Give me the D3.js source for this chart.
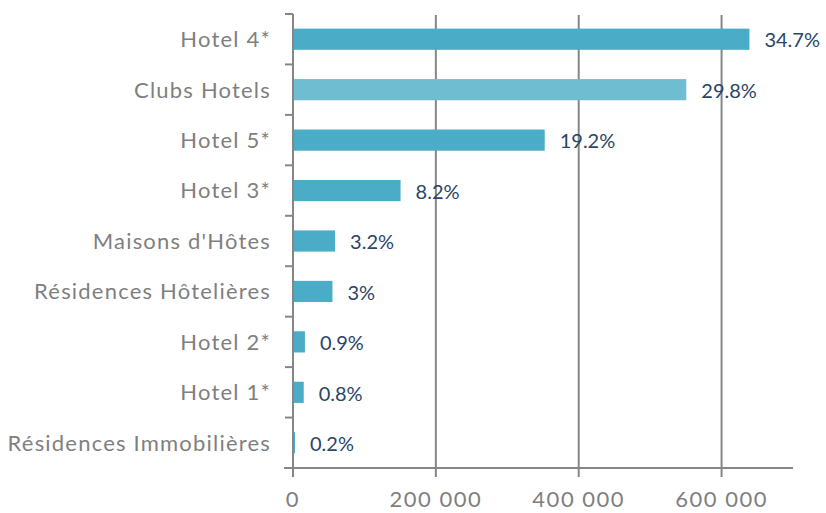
<!DOCTYPE html>
<html>
<head>
<meta charset="utf-8">
<style>
  body { margin: 0; background: #fff; }
  svg text { font-family: Lato, "Open Sans", sans-serif; }
</style>
<script src="https://d3js.org/d3.v7.min.js"></script>
</head>
<body>
<script>
// chart data
const categories = ["Hotel 4*", "Clubs Hotels", "Hotel 5*", "Hotel 3*", "Maisons d'Hôtes",
                    "Résidences Hôtelières", "Hotel 2*", "Hotel 1*", "Résidences Immobilières"];
const values = [639000, 550600, 352400, 150600, 58900, 55200, 16700, 15000, 2800];
const shares = ["34.7%", "29.8%", "19.2%", "8.2%", "3.2%", "3%", "0.9%", "0.8%", "0.2%"];
const xTicks = [0, 200000, 400000, 600000];

const w = 826, h = 513;
const mLeft = 293, mRight = 793, mTop = 14, mBottom = 468;

const svg = d3.select("body").append("svg")
    .attr("width", w)
    .attr("height", h);

const x = d3.scaleLinear().domain([0, 700000]).range([mLeft, mRight]);
const y = d3.scaleBand().domain(categories).range([mTop, mBottom]).paddingInner(0.58).paddingOuter(0.29);
const bandY = d3.scaleLinear().domain([0, categories.length]).range([mTop, mBottom]);

const gray = "#868686";

// vertical gridlines (with tick under the axis)
svg.append("g").selectAll("line")
    .data(xTicks)
    .join("line")
    .attr("x1", d => x(d)).attr("x2", d => x(d))
    .attr("y1", mTop + 1)
    .attr("y2", mBottom + 9)
    .attr("stroke", gray)
    .attr("stroke-width", 2);

// bottom axis line
svg.append("line")
    .attr("x1", mLeft - 9).attr("x2", mRight)
    .attr("y1", mBottom).attr("y2", mBottom)
    .attr("stroke", gray).attr("stroke-width", 2);

// category ticks on the left axis
svg.append("g").selectAll("line")
    .data(d3.range(categories.length))
    .join("line")
    .attr("x1", mLeft - 8).attr("x2", mLeft)
    .attr("y1", i => bandY(i)).attr("y2", i => bandY(i))
    .attr("stroke", gray).attr("stroke-width", 2);

// x tick labels
svg.append("g").selectAll("text")
    .data(xTicks)
    .join("text")
    .attr("x", d => x(d))
    .attr("y", 507)
    .attr("text-anchor", "middle")
    .attr("fill", "#7f7f7f")
    .attr("font-size", 22)
    .attr("letter-spacing", 1.5)
    .text(d => d3.format(",")(d).replace(/,/g, " "));

// bars
svg.append("g").selectAll("rect")
    .data(categories)
    .join("rect")
    .attr("x", x(0))
    .attr("y", d => y(d))
    .attr("width", (d, i) => x(values[i]) - x(0))
    .attr("height", y.bandwidth())
    .attr("fill", d => d === "Clubs Hotels" ? "#6fbdd1" : "#4aacc6");

// category labels
svg.append("g").selectAll("text")
    .data(categories)
    .join("text")
    .attr("x", 271)
    .attr("y", d => y(d) + y.bandwidth() / 2)
    .attr("dy", "0.36em")
    .attr("text-anchor", "end")
    .attr("fill", "#7f7f7f")
    .attr("font-size", 22)
    .attr("letter-spacing", 1.2)
    .text(d => d);

// value labels
svg.append("g").selectAll("text")
    .data(categories)
    .join("text")
    .attr("x", (d, i) => x(values[i]) + 15)
    .attr("y", d => y(d) + y.bandwidth() / 2 + 1)
    .attr("dy", "0.36em")
    .attr("fill", "#2b4566")
    .attr("font-size", 20)
    .text((d, i) => shares[i]);

// left axis line
svg.append("line")
    .attr("x1", mLeft).attr("x2", mLeft)
    .attr("y1", mTop).attr("y2", mBottom + 9)
    .attr("stroke", gray).attr("stroke-width", 2);
</script>
</body>
</html>
